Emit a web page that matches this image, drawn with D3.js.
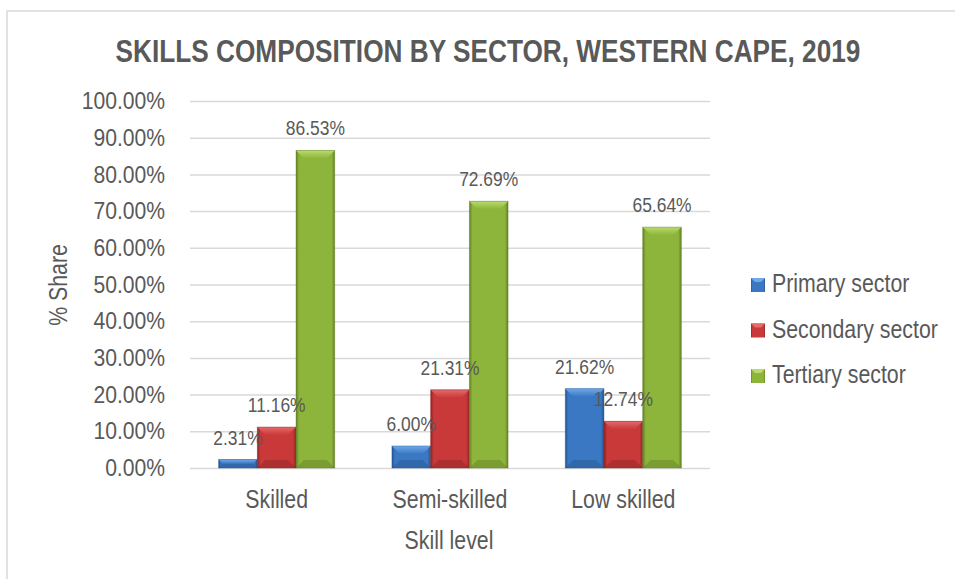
<!DOCTYPE html>
<html>
<head>
<meta charset="utf-8">
<script src="https://cdn.jsdelivr.net/npm/d3@7"></script>
<style>
  body { margin: 0; background: #fff; }
  svg { display: block; font-family: "Liberation Sans", Arial, sans-serif; }
</style>
</head>
<body>
<div id="chart"></div>
<script>
// data
const skillLevels = ['Skilled', 'Semi-skilled', 'Low skilled']
const sectors = ['Primary sector', 'Secondary sector', 'Tertiary sector']
const primaryVals = [0.0231, 0.0600, 0.2162]
const secondaryVals = [0.1116, 0.2131, 0.1274]
const tertiaryVals = [0.8653, 0.7269, 0.6564]
const yTicks = [0, 0.1, 0.2, 0.3, 0.4, 0.5, 0.6, 0.7, 0.8, 0.9, 1.0]

const seriesVals = [primaryVals, secondaryVals, tertiaryVals]
const colors = [
    { mid: '#3b78c3', light: '#6fa9ea', dark: '#24558f' },
    { mid: '#c9393a', light: '#e56a6a', dark: '#8e2324' },
    { mid: '#8db53b', light: '#b8dc6c', dark: '#637f26' }
]
const textCol = '#595959'
const gridCol = '#d9d9d9'

// narrow look: squeeze text horizontally round its anchor (no Arial Narrow here)
function condense(sel, k) {
    sel.each(function() {
        const t = d3.select(this)
        const x = +t.attr('x') || 0
        const y = +t.attr('y') || 0
        const pre = t.attr('transform') || ''
        t.attr('transform', `${pre} translate(${x},${y}) scale(${k},1) translate(${-x},${-y})`)
    })
}

// canvas
const width = 955
const height = 579
const plot = { left: 190, right: 710, top: 101, bottom: 468 }

const svg = d3.select('#chart').append('svg')
    .attr('width', width)
    .attr('height', height)

const defs = svg.append('defs')
colors.forEach((c, i) => {
    const g = defs.append('linearGradient')
        .attr('id', 'grad' + i)
        .attr('x1', '0').attr('x2', '1').attr('y1', '0').attr('y2', '0')
    g.append('stop').attr('offset', '0%').attr('stop-color', c.dark)
    g.append('stop').attr('offset', '8%').attr('stop-color', c.mid)
    g.append('stop').attr('offset', '92%').attr('stop-color', c.mid)
    g.append('stop').attr('offset', '100%').attr('stop-color', c.dark)
    const t = defs.append('linearGradient')
        .attr('id', 'top' + i)
        .attr('x1', '0').attr('x2', '0').attr('y1', '0').attr('y2', '1')
    t.append('stop').attr('offset', '0%').attr('stop-color', c.light)
    t.append('stop').attr('offset', '100%').attr('stop-color', c.mid)
})

// frame
svg.append('rect')
    .attr('x', 7).attr('y', 11)
    .attr('width', 1200).attr('height', 1200)
    .attr('fill', 'none')
    .attr('stroke', gridCol)
    .attr('stroke-width', 1.5)

// title
const title = svg.append('text')
    .attr('x', 488).attr('y', 62)
    .attr('text-anchor', 'middle')
    .attr('font-weight', 'bold')
    .attr('font-size', 32)
    .attr('fill', textCol)
    .text('SKILLS COMPOSITION BY SECTOR, WESTERN CAPE, 2019')
title.call(condense, 745 / title.node().getComputedTextLength())

// scales
const x0 = d3.scaleBand()
    .domain(skillLevels)
    .range([plot.left, plot.right])
    .paddingInner(0.33)
    .paddingOuter(0.165)
const x1 = d3.scaleBand()
    .domain(sectors)
    .range([0, x0.bandwidth()])
const y = d3.scaleLinear()
    .domain([0, 1])
    .range([plot.bottom, plot.top])

// grid + y axis
const yAxis = d3.axisLeft(y)
    .tickValues(yTicks)
    .tickSize(0)
    .tickPadding(25)
    .tickFormat(d3.format('.2%'))
const yG = svg.append('g')
    .attr('transform', `translate(${plot.left},0)`)
    .call(yAxis)
yG.select('.domain').remove()
yG.selectAll('text')
    .attr('fill', textCol)
    .attr('font-size', 24)
    .attr('font-family', '"Liberation Sans", Arial, sans-serif')
    .call(condense, 0.88)
yG.selectAll('.tick').append('line')
    .attr('x1', 0).attr('x2', plot.right - plot.left)
    .attr('stroke', gridCol)
    .attr('stroke-width', 1.5)

// bars
const groups = svg.append('g').selectAll('g')
    .data(skillLevels)
    .join('g')
    .attr('transform', d => `translate(${x0(d)},0)`)

const barData = (cat, ci) => sectors.map((s, si) => ({ cat, s, si, v: seriesVals[si][ci] }))

groups.each(function(cat, ci) {
    const g = d3.select(this)
    barData(cat, ci).forEach(d => {
        const bx = x1(d.s)
        const bw = x1.bandwidth()
        const by = y(d.v)
        const bh = y(0) - y(d.v)
        const b = Math.min(8, bh / 2)
        const bar = g.append('g')
        bar.append('rect')
            .attr('x', bx).attr('y', by)
            .attr('width', bw).attr('height', bh)
            .attr('fill', `url(#grad${d.si})`)
        // top bevel
        bar.append('polygon')
            .attr('points', [[bx, by], [bx + bw, by], [bx + bw - b, by + b], [bx + b, by + b]].join(' '))
            .attr('fill', `url(#top${d.si})`)
        // bottom bevel
        bar.append('polygon')
            .attr('points', [[bx, by + bh], [bx + bw, by + bh], [bx + bw - b, by + bh - b], [bx + b, by + bh - b]].join(' '))
            .attr('fill', colors[d.si].dark)
            .attr('opacity', 0.45)
        bar.append('rect')
            .attr('x', bx).attr('y', by)
            .attr('width', bw).attr('height', bh)
            .attr('fill', 'none')
            .attr('stroke', colors[d.si].dark)
            .attr('stroke-opacity', 0.5)
            .attr('stroke-width', 0.8)
    })
})

// data labels
groups.selectAll('text.lbl')
    .data((cat, ci) => barData(cat, ci))
    .join('text')
    .attr('class', 'lbl')
    .attr('x', d => x1(d.s) + x1.bandwidth() / 2)
    .attr('y', d => y(d.v) - 15)
    .attr('text-anchor', 'middle')
    .attr('font-size', 21)
    .attr('fill', textCol)
    .text(d => d3.format('.2%')(d.v))
    .call(condense, 0.83)

// x axis labels
const xAxis = d3.axisBottom(x0).tickSize(0).tickPadding(22)
const xG = svg.append('g')
    .attr('transform', `translate(0,${plot.bottom})`)
    .call(xAxis)
xG.select('.domain').remove()
xG.selectAll('text')
    .attr('fill', textCol)
    .attr('font-size', 26)
    .attr('font-family', '"Liberation Sans", Arial, sans-serif')
    .call(condense, 0.82)

// axis titles
svg.append('text')
    .attr('x', 449).attr('y', 549)
    .attr('text-anchor', 'middle')
    .attr('font-size', 26)
    .attr('fill', textCol)
    .text('Skill level')
    .call(condense, 0.82)
svg.append('text')
    .attr('transform', 'translate(67,285) rotate(-90)')
    .attr('text-anchor', 'middle')
    .attr('font-size', 26)
    .attr('fill', textCol)
    .text('% Share')
    .call(condense, 0.82)

// legend
const legend = svg.append('g').selectAll('g')
    .data(sectors)
    .join('g')
    .attr('transform', (d, i) => `translate(751,${278 + i * 45.5})`)
legend.append('rect')
    .attr('width', 14).attr('height', 14)
    .attr('fill', (d, i) => `url(#grad${i})`)
legend.append('polygon')
    .attr('points', '0,0 14,0 10,4 4,4')
    .attr('fill', (d, i) => colors[i].light)
legend.append('text')
    .attr('x', 21).attr('y', 14)
    .attr('font-size', 26)
    .attr('fill', textCol)
    .text(d => d)
    .call(condense, 0.82)
</script>
</body>
</html>
